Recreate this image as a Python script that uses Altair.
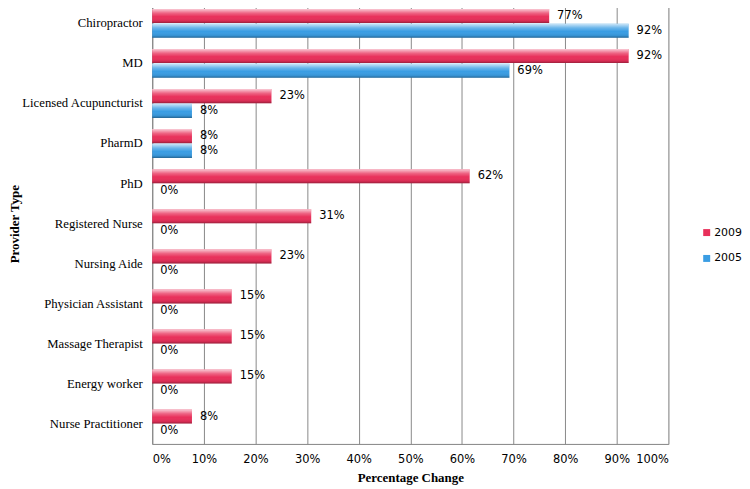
import altair as alt
import pandas as pd

categories = ["Chiropractor", "MD", "Licensed Acupuncturist", "PharmD", "PhD",
              "Registered Nurse", "Nursing Aide", "Physician Assistant",
              "Massage Therapist", "Energy worker", "Nurse Practitioner"]
years = ["2009", "2005"]
v2009 = [76.9, 92.3, 23.1, 7.7, 61.5, 30.8, 23.1, 15.4, 15.4, 15.4, 7.7]
v2005 = [92.3, 69.2, 7.7, 7.7, 0, 0, 0, 0, 0, 0, 0]
x_ticks = [0, 10, 20, 30, 40, 50, 60, 70, 80, 90, 100]

rows = []
for i, c in enumerate(categories):
    rows.append({"type": c, "year": "2009", "value": v2009[i]})
    rows.append({"type": c, "year": "2005", "value": v2005[i]})
df = pd.DataFrame(rows)
df["label"] = df["value"].round().astype(int).astype(str) + "%"

y = alt.Y("type:N", sort=categories,
          scale=alt.Scale(paddingInner=0.28, paddingOuter=0.14),
          axis=alt.Axis(title="Provider Type", labelFont="Liberation Serif",
                        labelFontSize=12.8, labelColor="black", ticks=False,
                        domainColor="#888", labelPadding=10,
                        titleFont="Liberation Serif", titleFontSize=13,
                        titleFontWeight="bold", titleColor="black", titlePadding=0))
yoff = alt.YOffset("year:N", sort=years,
                   scale=alt.Scale(domain=years, paddingInner=0.04))
x = alt.X("value:Q", scale=alt.Scale(domain=[0, 100], nice=False),
          axis=alt.Axis(values=x_ticks, labelExpr="datum.value + '%'", grid=True,
                        gridColor="#888", gridOpacity=1, ticks=False, domainColor="#888",
                        labelFont="DejaVu Sans", labelFontSize=11.5, labelColor="black",
                        labelPadding=10, title="Percentage Change",
                        titleFont="Liberation Serif", titleFontSize=13,
                        titleFontWeight="bold", titleColor="black", titlePadding=6))

color = alt.Color("year:N",
                  scale=alt.Scale(domain=years, range=["#E8305A", "#3A9DE3"]),
                  legend=alt.Legend(title=None, orient="none", legendX=552, legendY=225,
                                    symbolType="square", symbolSize=49,
                                    symbolStrokeWidth=0,
                                    labelFont="DejaVu Sans", labelFontSize=11,
                                    labelColor="black", rowPadding=14, labelOffset=2))

base = alt.Chart(df)

bars = base.mark_bar().encode(x=x, y=y, yOffset=yoff, color=color)

shine = base.mark_bar(
    fill=alt.Gradient(
        gradient="linear", x1=0, y1=0, x2=0, y2=1,
        stops=[alt.GradientStop(offset=0, color="rgba(255,255,255,0.75)"),
               alt.GradientStop(offset=0.3, color="rgba(255,255,255,0.25)"),
               alt.GradientStop(offset=0.55, color="rgba(255,255,255,0)"),
               alt.GradientStop(offset=0.85, color="rgba(0,0,0,0.08)"),
               alt.GradientStop(offset=1, color="rgba(0,0,0,0.35)")])
).encode(x="value:Q", y=alt.Y("type:N", sort=categories), yOffset=yoff)

text = base.mark_text(align="left", baseline="middle", dx=8,
                      font="DejaVu Sans", fontSize=11.5, color="black").encode(
    x="value:Q", y=alt.Y("type:N", sort=categories), yOffset=yoff, text="label:N")

chart = alt.layer(bars, shine, text).properties(
    width=519, height=443,
    padding={"left": 0, "top": -6, "right": 0, "bottom": 0}
).configure_view(strokeWidth=0).configure(background="white")

chart.save("out.html", embed_options={"renderer": "svg", "actions": False})
